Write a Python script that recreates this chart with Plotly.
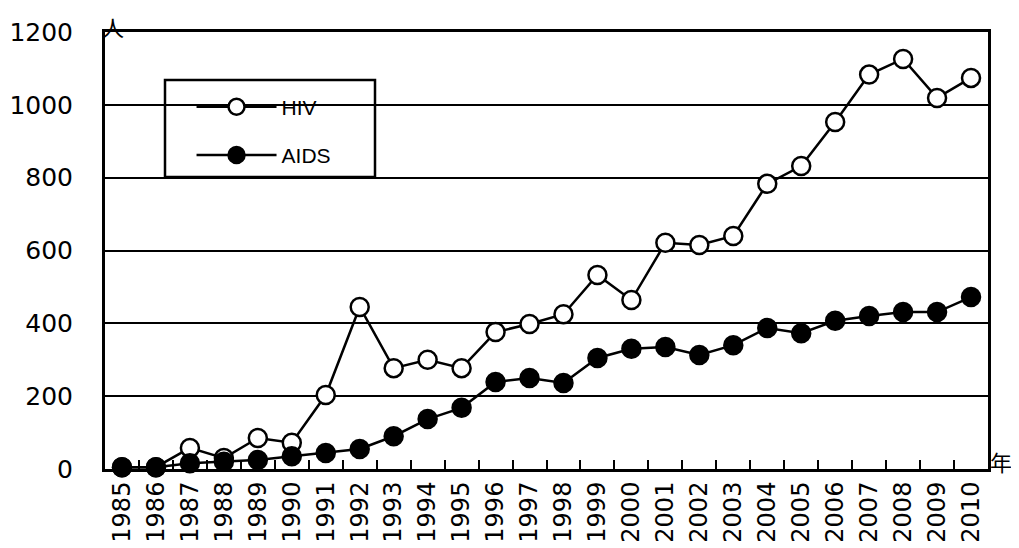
import plotly.graph_objects as go

years = [str(y) for y in range(1985, 2011)]
hiv = [5, 5, 58, 30, 85, 72, 203, 445, 277, 300, 277, 376, 398, 425, 533, 464,
       621, 615, 640, 783, 832, 953, 1083, 1126, 1019, 1074]
aids = [5, 5, 16, 20, 25, 35, 44, 55, 90, 137, 168, 239, 250, 236, 305, 330,
        335, 313, 340, 387, 373, 407, 420, 431, 431, 472]
y_ticks = [0, 200, 400, 600, 800, 1000, 1200]

fig = go.Figure()
fig.add_trace(go.Scatter(
    x=years, y=hiv, name="HIV", mode="lines+markers", legendgroup="a",
    line=dict(color="black", width=2.5),
    marker=dict(symbol="circle", size=18, color="white", line=dict(color="black", width=2.5)),
    cliponaxis=False))
fig.add_trace(go.Scatter(
    x=years, y=aids, name="AIDS", mode="lines+markers", legendgroup="b",
    line=dict(color="black", width=2.5),
    marker=dict(symbol="circle", size=18, color="black", line=dict(color="black", width=2.5)),
    cliponaxis=False))

# page body has an 8px margin; compensate so the plot lands where the reference has it
fig.update_layout(
    width=1011, height=540,
    margin=dict(l=97, r=31, t=24, b=79),
    paper_bgcolor="white", plot_bgcolor="white",
    font=dict(family="DejaVu Sans", color="black"),
    showlegend=True,
    legend=dict(x=0.098, y=0.875, xanchor="left", yanchor="top",
                bgcolor="rgba(0,0,0,0)", borderwidth=0,
                font=dict(family="Liberation Sans", size=21, color="black"),
                tracegroupgap=18, itemwidth=80),
    xaxis=dict(type="category", range=[-0.5, len(years) - 0.5],
               tickangle=-90, tickson="boundaries",
               ticks="inside", ticklen=9, tickwidth=2, tickcolor="black",
               showline=True, linecolor="black", linewidth=3, mirror=True,
               showgrid=False, automargin=False, ticklabelstandoff=0,
               tickfont=dict(family="DejaVu Sans", size=24)),
    yaxis=dict(range=[0, 1200], tickvals=y_ticks, ticks="",
               showline=True, linecolor="black", linewidth=3, mirror=True,
               showgrid=True, gridcolor="black", gridwidth=2,
               zeroline=False, automargin=False, ticklabelstandoff=24,
               tickfont=dict(family="DejaVu Sans", size=25)),
    shapes=[dict(type="rect", xref="paper", yref="paper",
                 x0=(165 - 105) / 883, x1=(375 - 105) / 883,
                 y0=(469 - 177) / 437, y1=(469 - 80) / 437,
                 line=dict(color="black", width=2.5), fillcolor="white",
                 layer="between")],
    annotations=[
        dict(text="人", xref="paper", yref="paper", x=0.0, y=1.0,
             xanchor="center", yanchor="middle", showarrow=False,
             font=dict(family="Noto Sans CJK JP", size=22, color="black"),
             xshift=8, yshift=6),
        dict(text="年", xref="paper", yref="paper", x=1.0, y=0.0,
             xanchor="left", yanchor="middle", showarrow=False,
             font=dict(family="Noto Sans CJK JP", size=22, color="black"), yshift=8),
    ],
)

fig.write_html("out.html")
